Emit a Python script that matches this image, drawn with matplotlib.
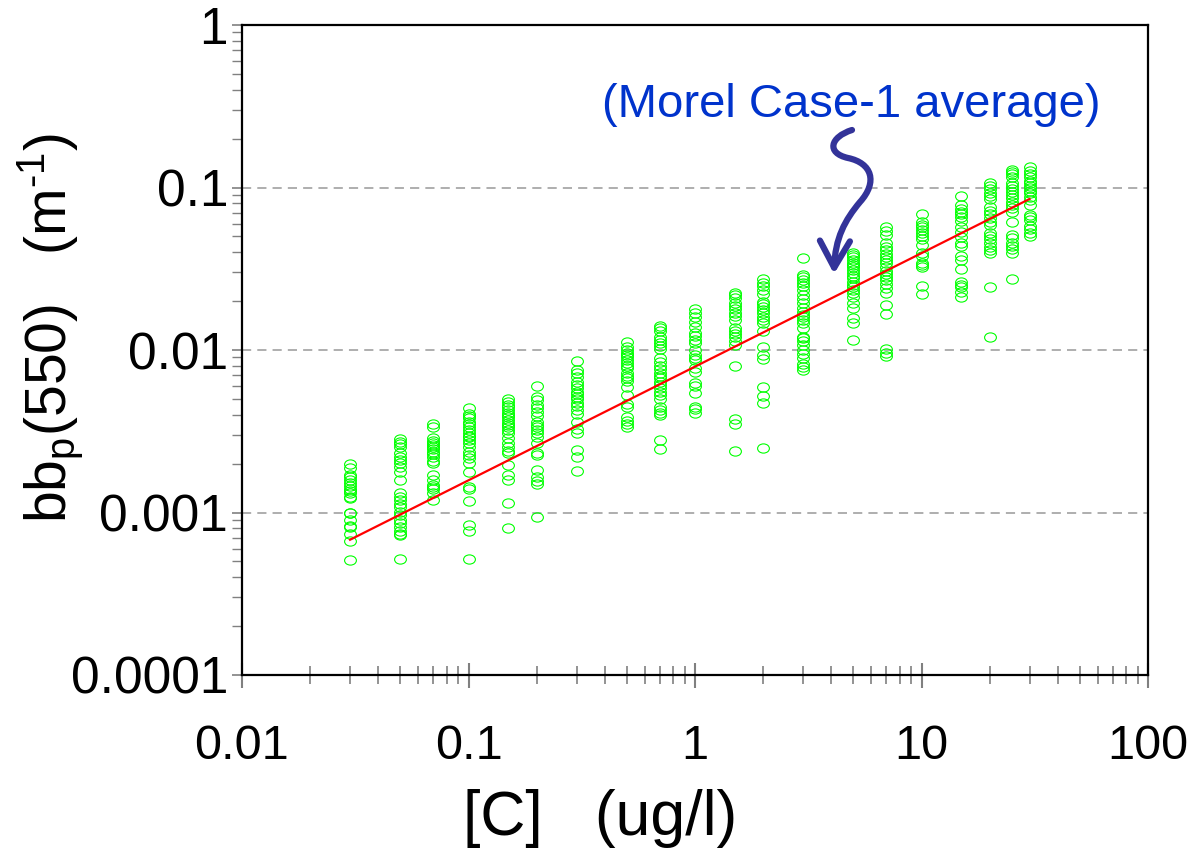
import numpy as np
import matplotlib
matplotlib.use('Agg')
import matplotlib.pyplot as plt
import matplotlib.ticker as ticker
from matplotlib.path import Path
from matplotlib.markers import MarkerStyle
from matplotlib.patches import FancyArrowPatch

plt.rcParams['font.family'] = ['Liberation Sans', 'DejaVu Sans']
plt.rcParams['mathtext.fontset'] = 'custom'
plt.rcParams['mathtext.rm'] = 'Liberation Sans'
plt.rcParams['mathtext.default'] = 'regular'

# chlorophyll levels (x) and the bbp(550) values measured at each
chl = [0.03, 0.05, 0.07, 0.1, 0.15, 0.2, 0.3, 0.5, 0.7, 1,
       1.5, 2, 3, 5, 7, 10, 15, 20, 25, 30]

bbp_003 = [0.002, 0.00189, 0.0017, 0.00165, 0.00158, 0.00152, 0.00145, 0.0014, 0.00135,
           0.00132, 0.00124, 0.00122, 0.001, 0.00099, 0.0009, 0.00083, 0.00081, 0.00074,
           0.00067, 0.00051]
bbp_005 = [0.00282, 0.00273, 0.00264, 0.00254, 0.00231, 0.0022, 0.0021, 0.00201, 0.00191,
           0.00178, 0.00158, 0.00131, 0.00125, 0.00119, 0.00113, 0.00108, 0.00101, 0.00096,
           0.0009, 0.00086, 0.00082, 0.00077, 0.00074, 0.00073, 0.00052]
bbp_007 = [0.0035, 0.00334, 0.00286, 0.00277, 0.00269, 0.0026, 0.00252, 0.00245, 0.00237,
           0.00229, 0.0022, 0.00208, 0.00201, 0.0017, 0.00158, 0.00148, 0.00143, 0.00139,
           0.00131, 0.00119]
bbp_01 = [0.00438, 0.00404, 0.00393, 0.0038, 0.00362, 0.0035, 0.00337, 0.00322, 0.00307,
          0.00297, 0.0029, 0.00279, 0.00267, 0.00252, 0.00237, 0.00226, 0.00215, 0.00203,
          0.00178, 0.00144, 0.00139, 0.00117, 0.00084, 0.00077, 0.00052]
bbp_015 = [0.00497, 0.00481, 0.00459, 0.00444, 0.00427, 0.00411, 0.00398, 0.00385, 0.00371,
           0.00357, 0.00345, 0.00334, 0.00322, 0.00307, 0.00286, 0.00267, 0.00252, 0.0024,
           0.00231, 0.00196, 0.0017, 0.00158, 0.00114, 0.0008]
bbp_02 = [0.006, 0.00512, 0.00492, 0.00459, 0.00438, 0.00417, 0.00393, 0.00362, 0.00345,
          0.00334, 0.00322, 0.00307, 0.00293, 0.00267, 0.00231, 0.00226, 0.00183, 0.00165,
          0.00157, 0.0015, 0.00094]
bbp_03 = [0.0086, 0.00753, 0.00719, 0.00679, 0.00638, 0.00609, 0.00581, 0.00554, 0.00536,
          0.00516, 0.00497, 0.00474, 0.00452, 0.00427, 0.00404, 0.00362, 0.00325, 0.0031,
          0.00242, 0.00219, 0.00181]
bbp_05 = [0.01125, 0.0104, 0.01, 0.00963, 0.00931, 0.00902, 0.00868, 0.00828, 0.00797,
          0.00771, 0.00719, 0.00692, 0.0067, 0.00647, 0.00594, 0.00529, 0.00466, 0.00448,
          0.00389, 0.00367, 0.00351, 0.00337]
bbp_07 = [0.0141, 0.0136, 0.013, 0.0121, 0.0115, 0.011, 0.0106, 0.0101, 0.00889, 0.00848,
          0.00797, 0.0076, 0.00719, 0.00692, 0.0067, 0.00638, 0.00609, 0.00581, 0.00554,
          0.00529, 0.00498, 0.00448, 0.00428, 0.00411, 0.00398, 0.00279, 0.00245]
bbp_1 = [0.0178, 0.017, 0.016, 0.0149, 0.0139, 0.0127, 0.0122, 0.0116, 0.011, 0.01,
         0.00931, 0.00889, 0.00868, 0.00771, 0.00736, 0.00624, 0.006, 0.00546, 0.00448,
         0.00432, 0.00408]
bbp_15 = [0.0225, 0.0218, 0.0208, 0.0194, 0.0187, 0.0178, 0.017, 0.0162, 0.0153, 0.0136,
          0.0131, 0.0125, 0.012, 0.0114, 0.0107, 0.00797, 0.00375, 0.00351, 0.0024]
bbp_2 = [0.0272, 0.0259, 0.0248, 0.0234, 0.0221, 0.0198, 0.0192, 0.0185, 0.0176, 0.0168,
         0.016, 0.0153, 0.0146, 0.0131, 0.0105, 0.0093, 0.00877, 0.00594, 0.00521, 0.00474,
         0.00248]
bbp_3 = [0.0367, 0.029, 0.028, 0.027, 0.026, 0.0248, 0.0234, 0.0218, 0.0205, 0.0194,
         0.0181, 0.0172, 0.0164, 0.0159, 0.0153, 0.0146, 0.0136, 0.0121, 0.0118, 0.0114,
         0.0107, 0.01, 0.00945, 0.00889, 0.0082, 0.00782, 0.00753]
bbp_5 = [0.0397, 0.0384, 0.0372, 0.0358, 0.0345, 0.0334, 0.0323, 0.0311, 0.0299, 0.0285,
         0.0276, 0.0263, 0.0251, 0.0243, 0.0234, 0.0223, 0.0211, 0.0194, 0.0181, 0.0157,
         0.0146, 0.0116]
bbp_7 = [0.0574, 0.0542, 0.051, 0.0454, 0.0432, 0.0412, 0.039, 0.0375, 0.0358, 0.0342,
         0.0326, 0.0308, 0.0294, 0.0283, 0.027, 0.0255, 0.024, 0.0225, 0.0189, 0.0167,
         0.0101, 0.0096, 0.0092]
bbp_10 = [0.0687, 0.0616, 0.0588, 0.0569, 0.0548, 0.0527, 0.0503, 0.048, 0.0443, 0.0394,
          0.0379, 0.0342, 0.0334, 0.0323, 0.0248, 0.0221]
bbp_15b = [0.0887, 0.078, 0.0734, 0.071, 0.0687, 0.0661, 0.0625, 0.0569, 0.0535, 0.0494,
           0.0457, 0.0437, 0.0379, 0.0358, 0.0314, 0.0263, 0.0251, 0.0243, 0.0229, 0.0213]
bbp_20 = [0.107, 0.102, 0.0975, 0.0929, 0.0887, 0.0846, 0.0756, 0.072, 0.0687, 0.0646,
          0.0616, 0.0588, 0.0527, 0.0503, 0.048, 0.0457, 0.0432, 0.0412, 0.0394, 0.0243,
          0.0121]
bbp_25 = [0.129, 0.125, 0.121, 0.116, 0.106, 0.102, 0.0975, 0.0942, 0.0899, 0.0858,
          0.0818, 0.078, 0.0745, 0.071, 0.0616, 0.051, 0.0487, 0.0457, 0.0437, 0.0416,
          0.0394, 0.0272]
bbp_30 = [0.133, 0.127, 0.121, 0.1155, 0.11, 0.106, 0.102, 0.0989, 0.0955, 0.0921,
          0.0877, 0.0838, 0.078, 0.0677, 0.0656, 0.0631, 0.058, 0.0553, 0.0527, 0.0503]

bbp_cols = [bbp_003, bbp_005, bbp_007, bbp_01, bbp_015, bbp_02, bbp_03, bbp_05, bbp_07,
            bbp_1, bbp_15, bbp_2, bbp_3, bbp_5, bbp_7, bbp_10, bbp_15b, bbp_20, bbp_25, bbp_30]

# Morel case-1 average line
morel_chl = [0.03, 1, 30]
morel_bbp = [0.00068, 0.0079, 0.085]

xticks = [0.01, 0.1, 1, 10, 100]
xlabels = ['0.01', '0.1', '1', '10', '100']
yticks = [0.0001, 0.001, 0.01, 0.1, 1]
ylabels = ['0.0001', '0.001', '0.01', '0.1', '1']

W, H = 1187, 860
fig = plt.figure(figsize=(W / 100, H / 100), dpi=100)
ax = fig.add_axes([242 / W, 1 - 675 / H, (1148 - 242) / W, (675 - 25) / H])

circ = Path.unit_circle()
ell = MarkerStyle(Path(circ.vertices * np.array([1.0, 0.78]), circ.codes))

for c, vals in zip(chl, bbp_cols):
    ax.plot([c] * len(vals), vals, ls='none', marker=ell, ms=8.5,
            mfc='none', mec='#00ff00', mew=0.8, zorder=3)

ax.plot(morel_chl, morel_bbp, color='#ff0000', lw=1.6, zorder=4)

ax.set_xscale('log')
ax.set_yscale('log')
ax.set_xlim(0.01, 100)
ax.set_ylim(0.0001, 1)

ax.xaxis.set_major_locator(ticker.FixedLocator(xticks))
ax.xaxis.set_major_formatter(ticker.FixedFormatter(xlabels))
ax.yaxis.set_major_locator(ticker.FixedLocator(yticks))
ax.yaxis.set_major_formatter(ticker.FixedFormatter(ylabels))
ax.xaxis.set_minor_locator(ticker.LogLocator(base=10, subs=np.arange(2, 10)))
ax.yaxis.set_minor_locator(ticker.LogLocator(base=10, subs=np.arange(2, 10)))
ax.xaxis.set_minor_formatter(ticker.NullFormatter())
ax.yaxis.set_minor_formatter(ticker.NullFormatter())

ax.tick_params(axis='x', which='major', direction='inout', length=18, width=1.5,
               color='#808080', labelsize=35, pad=26)
ax.tick_params(axis='x', which='minor', direction='inout', length=13, width=1.2,
               color='#808080')
ax.tick_params(axis='y', which='major', direction='out', length=7, width=1.2,
               color='#808080', labelsize=37, pad=3)
ax.tick_params(axis='y', which='minor', direction='out', length=7, width=1.0,
               color='#808080')

for s in ax.spines.values():
    s.set_linewidth(1.6)
    s.set_color('black')

ax.grid(False)
for yv in yticks[1:-1]:
    ax.axhline(yv, color='#999999', lw=1.1, ls=(0, (6, 4)), zorder=1)

fig.text(50 / W, 1 - 328 / H, 'bb$_{p}$(550)   (m$^{\u2010 1}$)', rotation=90,
         ha='center', va='center', fontsize=41)
fig.text(600 / W, 1 - 818 / H, '[C]   (ug/l)', ha='center', va='center', fontsize=45)

ax.text(4.9, 0.32, '(Morel Case-1 average)', color='#0033cc', fontsize=34,
        ha='center', va='center')

# wavy arrow pointing at the line
pts = [(852, 130), (830, 137), (826, 153), (848, 158),
       (872, 163), (878, 182), (860, 202),
       (845, 220), (835, 238), (834, 274)]
codes = [Path.MOVETO] + [Path.CURVE4] * 9
verts = [(x / W, 1 - y / H) for x, y in pts]
arrow = FancyArrowPatch(path=Path(verts, codes), transform=fig.transFigure,
                        arrowstyle='->,head_length=0.8,head_width=0.45',
                        mutation_scale=24, color='#333399', lw=4.5,
                        capstyle='round', joinstyle='round')
fig.patches.append(arrow)

fig.savefig('out.png', dpi=100)
